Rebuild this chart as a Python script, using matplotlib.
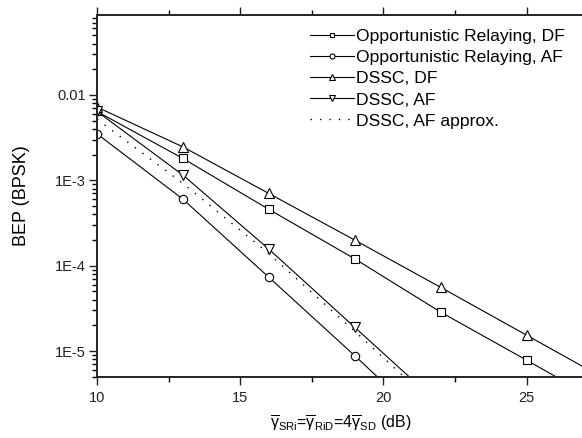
import numpy as np
import matplotlib
matplotlib.use('Agg')
import matplotlib.pyplot as plt
from matplotlib.ticker import LogLocator, FixedLocator, MultipleLocator, NullFormatter

plt.rcParams['font.family'] = ['Liberation Sans', 'DejaVu Sans']
plt.rcParams['mathtext.fontset'] = 'custom'
plt.rcParams['mathtext.rm'] = 'Liberation Sans'
plt.rcParams['mathtext.it'] = 'Liberation Sans'
plt.rcParams['mathtext.default'] = 'regular'

# SNR points (dB)
snr = [10, 13, 16, 19, 22, 25, 28]
snr_af = [10, 13, 16, 19, 22]

# BEP values
opp_df = [6.4e-3, 1.8e-3, 4.56e-4, 1.2e-4, 2.85e-5, 7.8e-6, 2.1e-6]
opp_af = [3.5e-3, 6.0e-4, 7.3e-5, 8.8e-6, 1.0e-6]
dssc_df = [7.2e-3, 2.46e-3, 7.0e-4, 1.99e-4, 5.56e-5, 1.53e-5, 4.2e-6]
dssc_af = [6.4e-3, 1.15e-3, 1.56e-4, 1.89e-5, 2.3e-6]
dssc_af_approx = [5.2e-3, 9.2e-4, 1.38e-4, 1.7e-5, 2.0e-6]

fig = plt.figure(figsize=(5.82, 4.38), dpi=100)
ax = fig.add_axes([97 / 582, 1 - 376.7 / 438, 487 / 582, (376.7 - 14.7) / 438])

mk = dict(color='black', linewidth=0.8, markerfacecolor='white',
          markeredgecolor='black', markeredgewidth=0.8, clip_on=True)
ax.plot(snr, opp_df, marker='s', markersize=5.5, label='Opportunistic Relaying, DF', **mk)
ax.plot(snr_af, opp_af, marker='o', markersize=6, label='Opportunistic Relaying, AF', **mk)
ax.plot(snr, dssc_df, marker='^', markersize=7, label='DSSC, DF', **mk)
ax.plot(snr_af, dssc_af, marker='v', markersize=7, label='DSSC, AF', **mk)
ax.plot(snr_af, dssc_af_approx, color='black', linewidth=1.0,
        linestyle=(0, (1.0, 5.8)), label='DSSC, AF approx.')

ax.set_yscale('log')
ax.set_xlim(10, 27)
ax.set_ylim(5e-6, 0.087)

ax.xaxis.set_major_locator(MultipleLocator(5))
ax.xaxis.set_minor_locator(MultipleLocator(2.5))
ax.yaxis.set_major_locator(FixedLocator([1e-5, 1e-4, 1e-3, 1e-2]))
ax.set_yticklabels(['1E-5', '1E-4', '1E-3', '0.01'])
ax.yaxis.set_minor_locator(LogLocator(base=10, subs=np.arange(2, 10), numticks=20))
ax.yaxis.set_minor_formatter(NullFormatter())

ax.tick_params(axis='both', which='major', direction='out', length=6, width=1.0,
               labelsize=10.5, colors='#222222')
ax.tick_params(axis='both', which='minor', direction='out', length=3.5, width=1.0)
ax.tick_params(axis='x', which='both', top=True, pad=4)
ax.tick_params(axis='y', which='both', right=False, pad=2)

for s in ['left', 'bottom', 'top']:
    ax.spines[s].set_linewidth(1.4)
    ax.spines[s].set_color('#222222')
ax.spines['right'].set_visible(False)

ax.set_ylabel('BEP (BPSK)', fontsize=13, labelpad=18)
ax.set_xlabel(r'$\overline{\gamma}_{SRi}$=$\overline{\gamma}_{RiD}$=4$\overline{\gamma}_{SD}$ (dB)',
              fontsize=11.5, labelpad=7)

leg = ax.legend(loc='upper left', bbox_to_anchor=((310 - 97) / 487, 0.96),
                frameon=False, fontsize=12.6, handlelength=2.5, handletextpad=0.12,
                labelspacing=0.33, markerscale=0.6, borderaxespad=0, borderpad=0)

fig.savefig('out.png', dpi=100)
